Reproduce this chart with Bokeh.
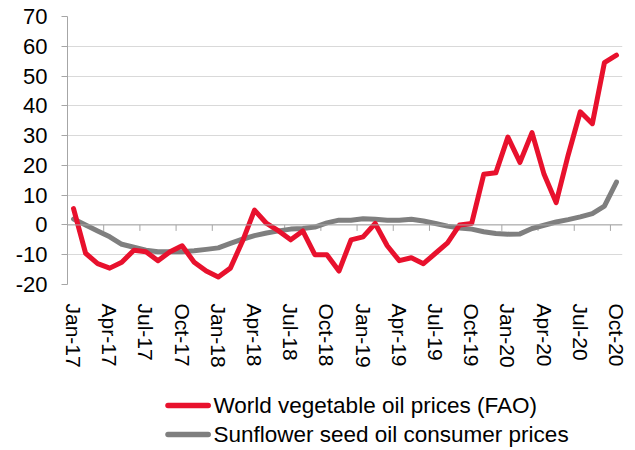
from bokeh.plotting import figure
from bokeh.layouts import column
from bokeh.models import Range1d, FixedTicker, Span, ColumnDataSource
from bokeh.core.properties import value
from bokeh.embed import file_html
from bokeh.resources import INLINE

# ---- data ----
x_idx = list(range(46))  # Jan-17 .. Oct-20, monthly
red_vals = [5.5, -9.5, -13, -14.5, -12.5, -8.5, -9, -12, -9, -7, -12.5, -15.5,
            -17.5, -14.5, -5.5, 5, 0.5, -2, -5, -2, -10, -10, -15.5, -5,
            -4, 0.5, -7, -12, -11, -13, -9.5, -6, 0, 0.5, 17, 17.5,
            29.5, 21, 31, 17, 7.5, 23.5, 38, 34, 54.5, 57]
gray_vals = [2, 0, -2, -4, -6.5, -7.5, -8.5, -9, -9, -9, -8.7, -8.2,
             -7.7, -6.2, -4.8, -3.6, -2.7, -2, -1.4, -1.2, -0.7, 0.7, 1.6, 1.6,
             2.1, 1.9, 1.6, 1.6, 1.9, 1.3, 0.5, -0.4, -1, -1.4, -2.3, -2.9,
             -3.1, -3, -1.2, -0.1, 1, 1.8, 2.7, 3.8, 6.3, 14.4]
x_ticks = [0, 3, 6, 9, 12, 15, 18, 21, 24, 27, 30, 33, 36, 39, 42, 45]
x_tick_labels = ["Jan-17", "Apr-17", "Jul-17", "Oct-17", "Jan-18", "Apr-18", "Jul-18", "Oct-18",
                 "Jan-19", "Apr-19", "Jul-19", "Oct-19", "Jan-20", "Apr-20", "Jul-20", "Oct-20"]
y_ticks = [-20, -10, 0, 10, 20, 30, 40, 50, 60, 70]
y_tick_labels = ["-20", "-10", "0", "10", "20", "30", "40", "50", "60", "70"]
series_names = ["World vegetable oil prices (FAO)", "Sunflower seed oil consumer prices"]

RED = "#E8112D"
GRAY = "#7F7F7F"
AXIS = "#A6A6A6"
FONT = "Liberation Sans"
LW = 5

p = figure(width=635, height=390, output_backend="svg", toolbar_location=None,
           x_range=Range1d(-0.5, 45.5), y_range=Range1d(-20, 70),
           min_border_left=67, min_border_right=13, min_border_top=16, min_border_bottom=106)
p.outline_line_color = None
p.background_fill_color = "white"
p.border_fill_color = "white"

# grid
p.xgrid.grid_line_color = None
p.ygrid.ticker = FixedTicker(ticks=y_ticks)
p.ygrid.grid_line_color = "#D9D9D9"
p.ygrid.grid_line_width = 1

# y axis
ya = p.yaxis[0]
ya.ticker = FixedTicker(ticks=y_ticks)
ya.major_label_overrides = {t: l for t, l in zip(y_ticks, y_tick_labels)}
ya.axis_line_color = AXIS
ya.major_tick_line_color = AXIS
ya.major_tick_out = 6
ya.major_tick_in = 0
ya.minor_tick_line_color = None
ya.major_label_standoff = 14
ya.major_label_text_font = FONT
ya.major_label_text_font_size = "22px"
ya.major_label_text_color = "#000000"

# x axis (labels only; axis line drawn at zero)
xa = p.xaxis[0]
xa.ticker = FixedTicker(ticks=x_ticks)
xa.major_label_overrides = {t: l for t, l in zip(x_ticks, x_tick_labels)}
xa.axis_line_color = None
xa.major_tick_line_color = None
xa.minor_tick_line_color = None
xa.major_tick_out = 0
xa.major_tick_in = 0
xa.major_label_orientation = "vertical"
xa.major_label_standoff = 19
xa.major_label_text_font = FONT
xa.major_label_text_font_size = "21px"
xa.major_label_text_color = "#000000"

# zero line with category-boundary tick marks
p.add_layout(Span(location=0, dimension="width", line_color=AXIS, line_width=1))
bounds = [t - 0.5 for t in x_ticks[1:]]
p.segment(x0=bounds, x1=bounds, y0=[0] * len(bounds), y1=[-2] * len(bounds),
          line_color=AXIS, line_width=1)

src = ColumnDataSource(dict(x=x_idx, red=red_vals, gray=gray_vals))
p.line("x", "gray", source=src, line_color=GRAY, line_width=LW,
       line_join="round", line_cap="round")
p.line("x", "red", source=src, line_color=RED, line_width=LW,
       line_join="round", line_cap="round")

# ---- legend strip below the chart (pixel-scaled ranges) ----
pl = figure(width=635, height=60, output_backend="svg", toolbar_location=None,
            x_axis_location=None, y_axis_location=None,
            x_range=Range1d(0, 635), y_range=Range1d(0, 60),
            min_border_left=0, min_border_right=0, min_border_top=0, min_border_bottom=0)
pl.outline_line_color = None
pl.xgrid.grid_line_color = None
pl.ygrid.grid_line_color = None
legend_y = [45, 16]
legend_colors = [RED, GRAY]
pl.segment(x0=[115, 115], x1=[161, 161], y0=legend_y, y1=legend_y,
           line_color=legend_colors, line_width=5.5, line_cap="round")
pl.text(x=[167, 167], y=legend_y, text=series_names,
        text_font=value(FONT), text_font_size="22.5px", text_color="#000000",
        text_baseline="middle", text_align="left")

layout = column(p, pl, spacing=0)
open("out.html", "w").write(file_html(layout, INLINE))
